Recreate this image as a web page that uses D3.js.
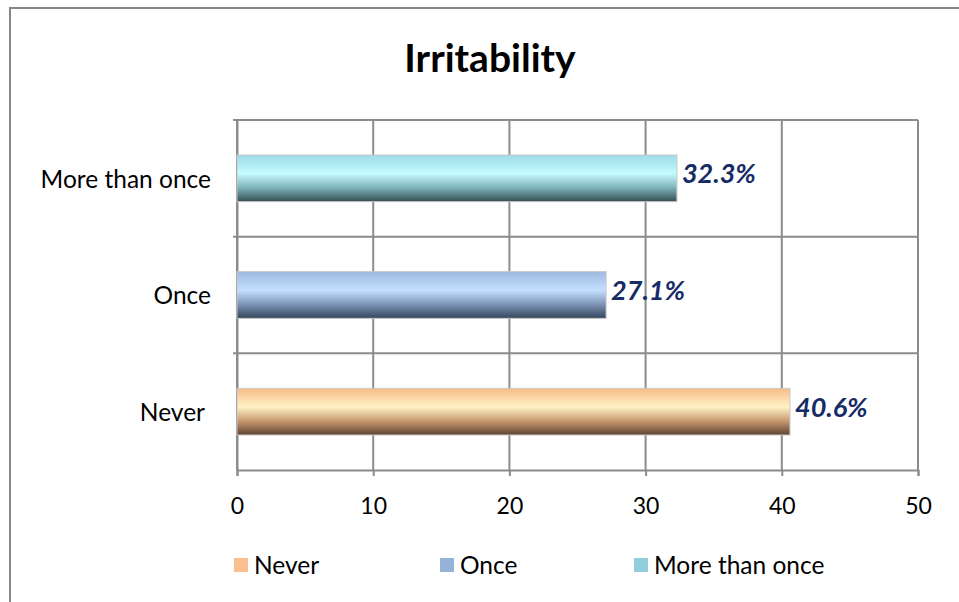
<!DOCTYPE html>
<html><head><meta charset="utf-8">
<script src="https://cdn.jsdelivr.net/npm/d3@7"></script>
<style>
html,body{margin:0;padding:0;background:#fff;}
svg text{font-family:Lato,"Open Sans",sans-serif;}
</style></head>
<body><svg id="c" width="959" height="602"></svg>
<script>
const title = "Irritability";
const categories = ["Never", "Once", "More than once"];
const values = [40.6, 27.1, 32.3];
const valueLabels = ["40.6%", "27.1%", "32.3%"];
const xTicks = [0, 10, 20, 30, 40, 50];
const legendColors = ["#fac090", "#95b3d7", "#92cddc"];
const gradStops = [
  ["#f7bb8a", "#fff2c4", "#c99870", "#5e4331"],
  ["#9cb8de", "#c4e0ff", "#7d95b6", "#35445a"],
  ["#9bdbe8", "#c4fbff", "#7fb2bb", "#364f53"]
];

const svg = d3.select("#c");
const W = 959, H = 602;
const m = {left: 237, right: 918, top: 120, bottom: 470};

// outer chart border
svg.append("rect").attr("x", 10).attr("y", 8).attr("width", W + 20).attr("height", H + 20)
  .attr("fill", "#fff").attr("stroke", "#868686").attr("stroke-width", 2);

svg.append("text").attr("x", 490).attr("y", 72).attr("text-anchor", "middle")
  .style("font-size", "39px").style("font-weight", "bold").attr("fill", "#000").text(title);

const x = d3.scaleLinear().domain([0, 50]).range([m.left, m.right]);
const y = d3.scaleBand().domain(categories.slice().reverse()).range([m.top, m.bottom]).paddingInner(0).paddingOuter(0);

const defs = svg.append("defs");
gradStops.forEach((s, i) => {
  const g = defs.append("linearGradient").attr("id", "g" + i).attr("x1", 0).attr("y1", 0).attr("x2", 0).attr("y2", 1);
  g.append("stop").attr("offset", "0%").attr("stop-color", s[0]);
  g.append("stop").attr("offset", "40%").attr("stop-color", s[1]);
  g.append("stop").attr("offset", "70%").attr("stop-color", s[2]);
  g.append("stop").attr("offset", "100%").attr("stop-color", s[3]);
});

const gridColor = "#8c8c8c";
// vertical gridlines
svg.append("g").selectAll("line").data(xTicks).join("line")
  .attr("x1", d => x(d)).attr("x2", d => x(d)).attr("y1", m.top).attr("y2", m.bottom)
  .attr("stroke", gridColor).attr("stroke-width", 2);
// horizontal category boundaries
const bounds = [m.top, y(categories[1]), y(categories[0])];
svg.append("g").selectAll("line").data(bounds).join("line")
  .attr("x1", m.left - 4).attr("x2", m.right).attr("y1", d => d).attr("y2", d => d)
  .attr("stroke", gridColor).attr("stroke-width", 2);

// x axis
const xAxis = d3.axisBottom(x).tickValues(xTicks).tickSize(6).tickPadding(22);
const gx = svg.append("g").attr("transform", `translate(0,${m.bottom})`).call(xAxis);
gx.select(".domain").attr("stroke", gridColor).attr("stroke-width", 2);
gx.selectAll(".tick line").attr("stroke", gridColor).attr("stroke-width", 2);
gx.selectAll(".tick text").style("font-size", "23px").attr("fill", "#000").style("font-family", "Lato, sans-serif");

// y axis
const yAxis = d3.axisLeft(y).tickSize(0).tickPadding(26);
const gy = svg.append("g").attr("transform", `translate(${m.left},0)`).call(yAxis);
gy.select(".domain").attr("stroke", gridColor).attr("stroke-width", 2);
gy.selectAll(".tick text").style("font-size", "24.5px").attr("fill", "#000").style("font-family", "Lato, sans-serif")
  .attr("dx", d => d === "Never" ? -6 : 0).attr("dy", "0.38em");

// bars
const barH = y.bandwidth() * 0.4;
const bars = svg.append("g");
categories.forEach((c, i) => {
  const yc = y(c) + y.bandwidth() / 2;
  bars.append("rect").attr("x", x(0)).attr("y", yc - barH / 2)
    .attr("width", x(values[i]) - x(0)).attr("height", barH)
    .attr("fill", `url(#g${i})`).attr("stroke", "#c8c8c8").attr("stroke-width", 1);
  bars.append("text").attr("x", x(values[i]) + 5).attr("y", yc + 5)
    .style("font-size", "27px").style("font-weight", "bold").style("font-style", "italic")
    .attr("fill", "#172b66").text(valueLabels[i]);
});

// legend
const legX = [234, 440, 634];
const lg = svg.append("g");
categories.forEach((c, i) => {
  lg.append("rect").attr("x", legX[i]).attr("y", 558).attr("width", 14).attr("height", 14).attr("fill", legendColors[i]);
  lg.append("text").attr("x", legX[i] + 20).attr("y", 574).style("font-size", "24.5px").attr("fill", "#000").text(c);
});
</script></body></html>
